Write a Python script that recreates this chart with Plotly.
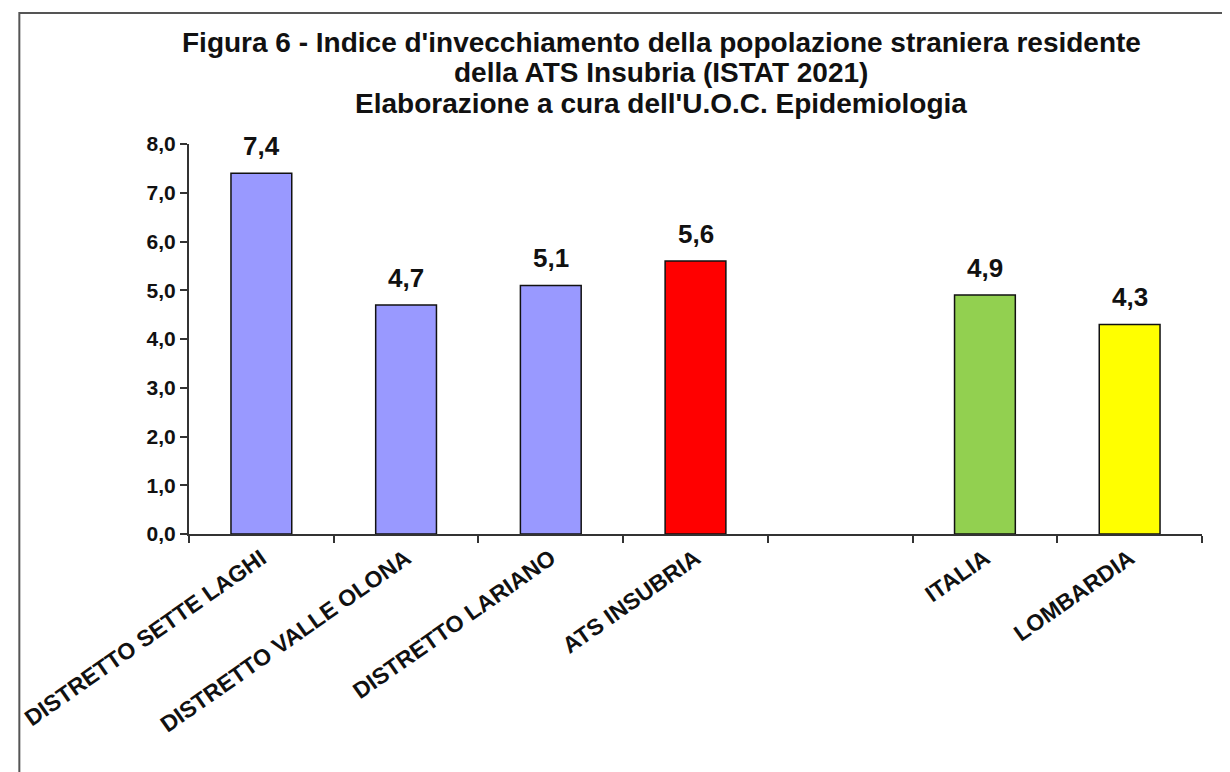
import plotly.graph_objects as go

categories = [
    "DISTRETTO SETTE LAGHI",
    "DISTRETTO VALLE OLONA",
    "DISTRETTO LARIANO",
    "ATS INSUBRIA",
    " ",
    "ITALIA",
    "LOMBARDIA",
]
values = [7.4, 4.7, 5.1, 5.6, None, 4.9, 4.3]
bar_colors = ["#9999FF", "#9999FF", "#9999FF", "#FF0000", "#FFFFFF", "#92D050", "#FFFF00"]

title_lines = [
    "Figura 6 - Indice d'invecchiamento della popolazione straniera residente",
    "della ATS Insubria (ISTAT 2021)",
    "Elaborazione a cura dell'U.O.C. Epidemiologia",
]

# the page body adds an 8px margin, so positions below are in figure pixels
W, H = 1230, 772
L, R, T, B = 173, 36, 136, 246
pw, ph = W - L - R, H - T - B


def px_x(x):
    return (x - L) / pw


def px_y(y):
    return (H - B - y) / ph


FONT = "Liberation Sans, Arial, sans-serif"

fig = go.Figure()

fig.add_trace(
    go.Bar(
        x=categories,
        y=values,
        marker=dict(color=bar_colors, line=dict(color="#111111", width=1.5)),
        hoverinfo="x+y",
    )
)

# value labels above the bars (comma decimal, as in the original)
for cat, v in zip(categories, values):
    if v is None:
        continue
    fig.add_annotation(
        x=cat,
        y=v,
        text=f"{v:.1f}".replace(".", ","),
        showarrow=False,
        yanchor="bottom",
        yshift=10,
        font=dict(family=FONT, size=26, color="#111111", weight="bold"),
    )

# outer frame of the picture
fig.add_shape(
    type="rect",
    xref="paper",
    yref="paper",
    x0=px_x(2),
    x1=px_x(1240),
    y0=px_y(790),
    y1=px_y(5),
    line=dict(color="#555555", width=2),
    fillcolor="rgba(0,0,0,0)",
)

for i, line in enumerate(title_lines):
    fig.add_annotation(
        text=line,
        xref="paper",
        yref="paper",
        x=px_x(649),
        y=px_y(34 + 31 * i),
        xanchor="center",
        yanchor="middle",
        showarrow=False,
        font=dict(family=FONT, size=28, color="#111111", weight="bold"),
    )

fig.update_layout(
    width=W,
    height=H,
    margin=dict(l=L, r=R, t=T, b=B),
    paper_bgcolor="white",
    plot_bgcolor="white",
    separators=",.",
    showlegend=False,
    bargap=0.58,
    font=dict(family=FONT, color="#111111"),
)

fig.update_xaxes(
    type="category",
    showgrid=False,
    showline=True,
    linecolor="#333333",
    linewidth=2,
    ticks="outside",
    tickson="boundaries",
    ticklen=7,
    tickcolor="#333333",
    tickwidth=2,
    tickangle=-35,
    tickfont=dict(family=FONT, size=23, color="#111111", weight="bold"),
    range=[-0.5, 6.5],
)

fig.update_yaxes(
    range=[0, 8],
    dtick=1,
    tickformat=".1f",
    showgrid=False,
    zeroline=False,
    showline=True,
    linecolor="#333333",
    linewidth=2,
    ticks="outside",
    ticklen=7,
    tickcolor="#333333",
    tickwidth=2,
    tickfont=dict(family=FONT, size=21, color="#111111", weight="bold"),
)

fig.write_html("out.html")
